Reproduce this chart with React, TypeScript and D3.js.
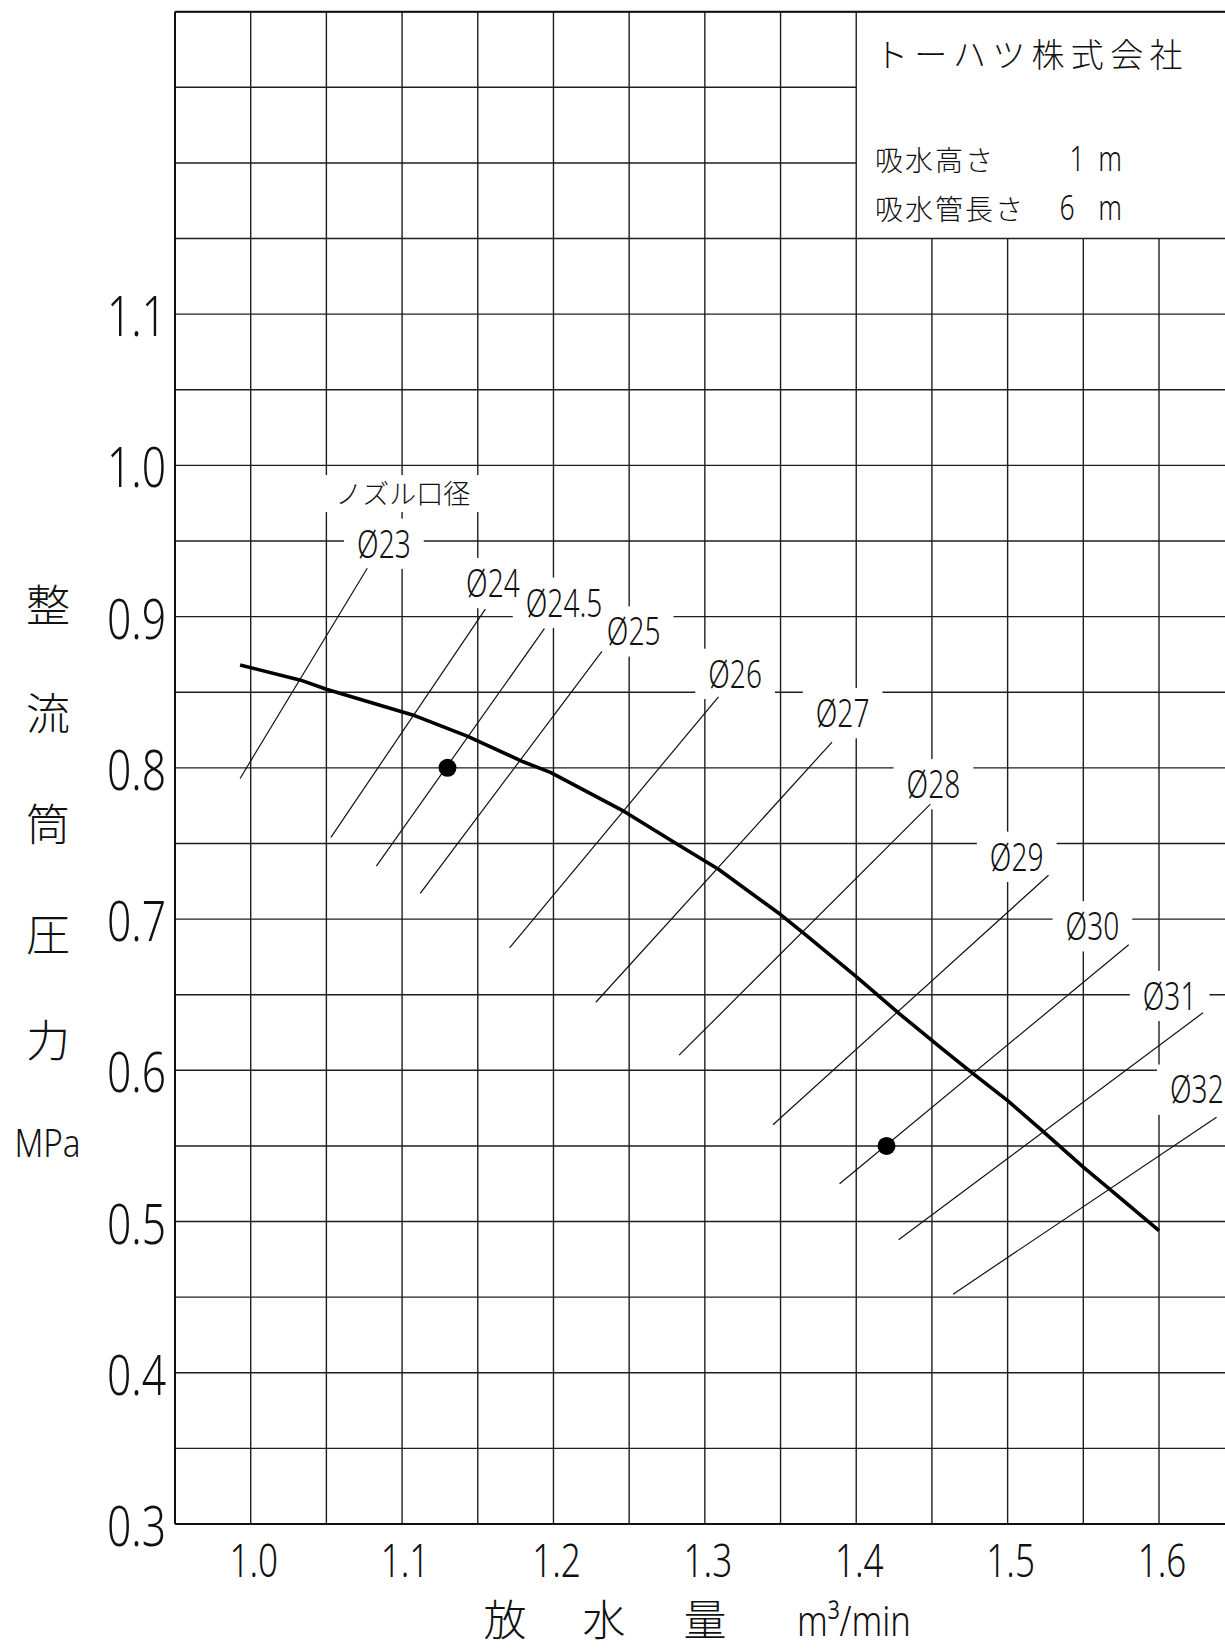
import React, { useEffect, useRef } from "react";
import * as d3 from "d3";

// performance curve (flow m3/min, pressure MPa)
const flowRate = [0.993, 1.033, 1.05, 1.107, 1.143, 1.18, 1.198, 1.247, 1.281, 1.309, 1.35, 1.366, 1.4, 1.429, 1.457, 1.477, 1.5, 1.523, 1.55, 1.568, 1.6];
const pressure = [0.868, 0.858, 0.852, 0.835, 0.821, 0.804, 0.797, 0.771, 0.75, 0.733, 0.703, 0.69, 0.662, 0.637, 0.614, 0.598, 0.58, 0.56, 0.536, 0.521, 0.494];

// nozzle diameter lines
const nozzleNames = ["23", "24", "24.5", "25", "26", "27", "28", "29", "30", "31", "32"];
const nozzleFlowLow = [0.993, 1.053, 1.083, 1.112, 1.171, 1.228, 1.283, 1.345, 1.389, 1.428, 1.464];
const nozzlePresLow = [0.793, 0.754, 0.735, 0.717, 0.681, 0.645, 0.61, 0.564, 0.525, 0.488, 0.452];
const nozzleFlowHigh = [1.077, 1.155, 1.194, 1.232, 1.309, 1.384, 1.449, 1.527, 1.58, 1.629, 1.638];
const nozzlePresHigh = [0.932, 0.905, 0.892, 0.877, 0.847, 0.817, 0.776, 0.729, 0.683, 0.638, 0.569];
const labelFlow = [1.088, 1.16, 1.207, 1.253, 1.32, 1.391, 1.451, 1.506, 1.556, 1.607, 1.625];
const labelPres = [0.948, 0.922, 0.909, 0.89, 0.862, 0.836, 0.789, 0.741, 0.695, 0.649, 0.587];

// marked operating points
const pointFlow = [1.13, 1.42];
const pointPres = [0.8, 0.55];

const xTicks = ["1.0", "1.1", "1.2", "1.3", "1.4", "1.5", "1.6"];
const yTicks = ["0.3", "0.4", "0.5", "0.6", "0.7", "0.8", "0.9", "1.0", "1.1"];

const yTitle = ["整", "流", "筒", "圧", "力"];
const xTitle = ["放", "水", "量"];

const company = "トーハツ株式会社";
const condLabels = ["吸水高さ", "吸水管長さ"];
const condValues = ["1", "6"];

const W = 1225;
const H = 1651;
const NUM_FONT = "'Noto Sans', 'DejaVu Sans', sans-serif";
const JP_FONT = "'Noto Sans CJK JP', 'Noto Sans', sans-serif";

const drawChart = (el) => {
    const svg = d3.select(el);
    svg.selectAll("*").remove();

    const x = d3.scaleLinear().domain([0.95, 1.65]).range([175, 1234.7]);
    const y = d3.scaleLinear().domain([0.3, 1.3]).range([1524, 11.7]);

    svg.append("rect").attr("width", W).attr("height", H).attr("fill", "white");

    // grid
    const grid = svg.append("g").attr("stroke", "#1e1e1e").attr("stroke-width", 1.4);
    const xLines = d3.range(0, 15).map(i => 0.95 + i * 0.05);
    const yLines = d3.range(0, 21).map(i => 0.3 + i * 0.05);
    xLines.forEach(v => {
        const top = v > 1.401 ? 1.15 : 1.3;
        grid.append("line")
            .attr("x1", x(v)).attr("x2", x(v))
            .attr("y1", y(0.3)).attr("y2", y(top));
    });
    yLines.forEach(v => {
        const right = v > 1.151 && v < 1.299 ? 1.4 : 1.65;
        grid.append("line")
            .attr("x1", x(0.95)).attr("x2", x(right))
            .attr("y1", y(v)).attr("y2", y(v));
    });
    // frame
    const frame = svg.append("g").attr("stroke", "#111").attr("stroke-width", 2);
    frame.append("line").attr("x1", x(0.95)).attr("x2", x(0.95)).attr("y1", y(0.3)).attr("y2", y(1.3));
    frame.append("line").attr("x1", x(0.95)).attr("x2", x(1.65)).attr("y1", y(0.3)).attr("y2", y(0.3));
    frame.append("line").attr("x1", x(0.95)).attr("x2", x(1.65)).attr("y1", y(1.3)).attr("y2", y(1.3));

    const maskLayer = svg.append("g");
    const lineLayer = svg.append("g");
    const textLayer = svg.append("g");

    // text helper, sx condenses the glyphs horizontally
    const addText = (str, px, py, opts) => {
        const { size, sx = 1, anchor = "start", font = NUM_FONT, spacing = 0, mask = false } = opts;
        const tr = `translate(${px},${py}) scale(${sx},1)`;
        const g = textLayer.append("g").attr("transform", tr);
        const t = g.append("text")
            .attr("text-anchor", anchor)
            .attr("font-family", font)
            .attr("font-size", size)
            .attr("font-weight", 300)
            .attr("letter-spacing", spacing)
            .attr("fill", "#111")
            .text(str);
        if (mask) {
            const b = t.node().getBBox();
            const pad = 13 / sx;
            maskLayer.append("rect")
                .attr("transform", tr)
                .attr("x", b.x - pad).attr("y", b.y + 2)
                .attr("width", b.width + 2 * pad).attr("height", b.height - 2)
                .attr("fill", "white");
        }
        return t;
    };

    // nozzle lines
    nozzleNames.forEach((n, i) => {
        lineLayer.append("line")
            .attr("x1", x(nozzleFlowLow[i])).attr("y1", y(nozzlePresLow[i]))
            .attr("x2", x(nozzleFlowHigh[i])).attr("y2", y(nozzlePresHigh[i]))
            .attr("stroke", "#111").attr("stroke-width", 1.2);
        addText("Ø" + n, x(labelFlow[i]), y(labelPres[i]) + 13.5, { size: 38, sx: 0.74, anchor: "middle", mask: true });
    });
    addText("ノズル口径", x(1.1005), y(0.9817) + 11, { size: 27, anchor: "middle", font: JP_FONT, mask: true });

    // performance curve
    const line = d3.line().x((d) => x(d[0])).y((d) => y(d[1]));
    lineLayer.append("path")
        .attr("d", line(flowRate.map((f, i) => [f, pressure[i]])))
        .attr("fill", "none").attr("stroke", "black")
        .attr("stroke-width", 3.6).attr("stroke-linejoin", "round");

    pointFlow.forEach((f, i) => {
        lineLayer.append("circle").attr("cx", x(f)).attr("cy", y(pointPres[i])).attr("r", 9).attr("fill", "black");
    });

    // axes labels
    yTicks.forEach(t => addText(t, 166, y(+t) + 22, { size: 54.6, sx: 0.78, anchor: "end" }));
    xTicks.forEach(t => addText(t, x(+t) + 3, 1577, { size: 45, sx: 0.78, anchor: "middle" }));

    const yTitleY = [606, 714, 825, 935, 1041];
    yTitle.forEach((c, i) => addText(c, 48, yTitleY[i] + 16, { size: 44, anchor: "middle", font: JP_FONT }));
    addText("MPa", 47.5, 1157, { size: 39, sx: 0.85, anchor: "middle" });

    const xTitleX = [505, 604, 705];
    xTitle.forEach((c, i) => addText(c, xTitleX[i], 1636, { size: 43, anchor: "middle", font: JP_FONT }));
    addText("m³/min", 797, 1636, { size: 42, sx: 0.82 });

    // info box
    addText(company, 875, 67, { size: 33, font: JP_FONT, spacing: 6.3 });
    condLabels.forEach((c, i) => {
        const by = i === 0 ? 171 : 220;
        addText(c, 875, by, { size: 28, font: JP_FONT, spacing: 2 });
        addText(condValues[i], i === 0 ? 1077 : 1067, by, { size: 34, sx: 0.78, anchor: "middle" });
        addText("m", 1110, by, { size: 34, sx: 0.78, anchor: "middle" });
    });
};

const App = () => {
    const svgRef = useRef(null);

    useEffect(() => {
        if (svgRef.current) {
            drawChart(svgRef.current);
        }
    });

    return (
        <div style={{ position: "absolute", left: 0, top: 0 }}>
            <svg ref={svgRef} width={W} height={H} style={{ display: "block" }} />
        </div>
    );
};

export default App;
